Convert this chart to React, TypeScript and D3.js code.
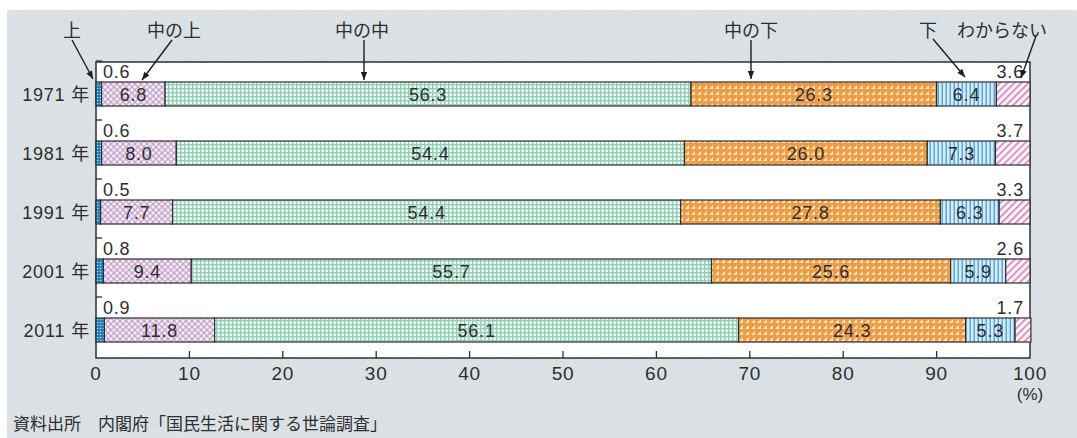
import React from 'react';
import * as d3 from 'd3';

const years = ['1971', '1981', '1991', '2001', '2011'];
const categories = ['上', '中の上', '中の中', '中の下', '下', 'わからない'];
const v1971 = [0.6, 6.8, 56.3, 26.3, 6.4, 3.6];
const v1981 = [0.6, 8.0, 54.4, 26.0, 7.3, 3.7];
const v1991 = [0.5, 7.7, 54.4, 27.8, 6.3, 3.3];
const v2001 = [0.8, 9.4, 55.7, 25.6, 5.9, 2.6];
const v2011 = [0.9, 11.8, 56.1, 24.3, 5.3, 1.7];
const seriesValues = [v1971, v1981, v1991, v2001, v2011];
const tickValues = [0, 10, 20, 30, 40, 50, 60, 70, 80, 90, 100];
const sourceNote = '資料出所　内閣府「国民生活に関する世論調査」';

const W = 1077;
const H = 438;
const plot = { left: 96, right: 1030, top: 62, bottom: 358 };
const FONT = '"Liberation Sans", "Noto Sans CJK JP", sans-serif';
const TEXT = '#2e2e2e';

const patternIds = ['p-top', 'p-midtop', 'p-midmid', 'p-midlow', 'p-low', 'p-unk'];

const annotations = [
  { label: '上', lx: 72, from: [72, 40], to: [93, 79] },
  { label: '中の上', lx: 174, from: [172, 40], to: [142, 80] },
  { label: '中の中', lx: 362, from: [364, 40], to: [364, 80] },
  { label: '中の下', lx: 751, from: [751, 40], to: [751, 79] },
  { label: '下', lx: 928, from: [933, 39], to: [965, 77] },
  { label: 'わからない', lx: 1002, from: [1036, 36], to: [1021, 78] },
];

export default function App() {
  const x = d3.scaleLinear().domain([0, 100]).range([plot.left, plot.right]);
  const y = d3.scalePoint<string>().domain(years).range([94, 330]);
  const barH = 24;

  const table = years.map((yr, i) => {
    const row: any = { year: yr };
    categories.forEach((c, j) => (row[c] = seriesValues[i][j]));
    return row;
  });
  const stacked = d3.stack<any>().keys(categories)(table);

  const arrowHead = (from: number[], to: number[]) => {
    const ang = Math.atan2(to[1] - from[1], to[0] - from[0]);
    const len = 8;
    const wid = 3.2;
    const bx = to[0] - len * Math.cos(ang);
    const by = to[1] - len * Math.sin(ang);
    const px = -Math.sin(ang) * wid;
    const py = Math.cos(ang) * wid;
    return `M${to[0]},${to[1]}L${bx + px},${by + py}L${bx - px},${by - py}Z`;
  };

  const numStyle = { letterSpacing: '0.8px' } as React.CSSProperties;

  return (
    <div style={{ position: 'absolute', left: 0, top: 0 }}>
      <svg width={W} height={H} style={{ display: 'block' }}>
        <defs>
          <filter id="grain" x="0" y="0" width="100%" height="100%">
            <feTurbulence type="fractalNoise" baseFrequency="0.9" numOctaves="2" seed="3" result="n" />
            <feColorMatrix type="matrix" values="0 0 0 0 0.55  0 0 0 0 0.6  0 0 0 0 0.63  0 0 0 0.35 0" />
            <feComposite in2="SourceGraphic" operator="in" />
          </filter>
          <pattern id="p-top" patternUnits="userSpaceOnUse" width="3" height="3">
            <rect width="3" height="3" fill="#1f7dc0" />
            <circle cx="1.5" cy="1.5" r="0.8" fill="#a6e6f6" />
          </pattern>
          <pattern id="p-midtop" patternUnits="userSpaceOnUse" width="6" height="6">
            <rect width="6" height="6" fill="#c7a6cd" />
            <circle cx="0" cy="0" r="1.7" fill="#f6eef6" />
            <circle cx="6" cy="0" r="1.7" fill="#f6eef6" />
            <circle cx="0" cy="6" r="1.7" fill="#f6eef6" />
            <circle cx="6" cy="6" r="1.7" fill="#f6eef6" />
            <circle cx="3" cy="3" r="1.7" fill="#f6eef6" />
          </pattern>
          <pattern id="p-midmid" patternUnits="userSpaceOnUse" width="4" height="4">
            <rect width="4" height="4" fill="#f1f9f5" />
            <rect x="0" y="0" width="4" height="1.4" fill="#93cfb6" />
            <rect x="0" y="0" width="1.4" height="4" fill="#93cfb6" />
          </pattern>
          <pattern id="p-midlow" patternUnits="userSpaceOnUse" width="6" height="6">
            <rect width="6" height="6" fill="#ee9c46" />
            <polygon points="1,5 5,5 5,1" fill="#fde7c4" />
          </pattern>
          <pattern id="p-low" patternUnits="userSpaceOnUse" width="4" height="4">
            <rect width="4" height="4" fill="#d3ecf8" />
            <rect x="1.5" y="0" width="1.5" height="4" fill="#5ea8d8" />
          </pattern>
          <pattern id="p-unk" patternUnits="userSpaceOnUse" width="5" height="5" patternTransform="rotate(45)">
            <rect width="5" height="5" fill="#fbf3f8" />
            <rect x="0" y="0" width="1.6" height="5" fill="#d47fb9" />
          </pattern>
        </defs>

        {/* background */}
        <rect x={0} y={0} width={W} height={H} fill="#ffffff" />
        <rect x={7} y={10} width={W - 7} height={H - 10} fill="#dfe5e8" />
        <rect x={7} y={10} width={W - 7} height={H - 10} fill="#dfe5e8" filter="url(#grain)" />

        {/* plot area */}
        <rect
          x={plot.left}
          y={plot.top}
          width={plot.right - plot.left}
          height={plot.bottom - plot.top}
          fill="#ffffff"
          stroke="#2e2e2e"
          strokeWidth={1.5}
        />

        {/* bars */}
        {stacked.map((s, j) => (
          <g key={s.key}>
            {s.map((d, i) => (
              <rect
                key={years[i]}
                x={x(d[0])}
                y={(y(years[i]) as number) - barH / 2}
                width={x(d[1]) - x(d[0])}
                height={barH}
                fill={`url(#${patternIds[j]})`}
                stroke="#2e2e2e"
                strokeWidth={1.2}
              />
            ))}
          </g>
        ))}

        {/* in-bar labels */}
        {stacked.map((s, j) =>
          j >= 1 && j <= 4
            ? s.map((d, i) => (
                <text
                  key={`${s.key}-${years[i]}`}
                  x={(x(d[0]) + x(d[1])) / 2}
                  y={(y(years[i]) as number) + 7}
                  textAnchor="middle"
                  fontFamily={FONT}
                  fontSize={18}
                  fill={TEXT}
                  style={numStyle}
                >
                  {seriesValues[i][j].toFixed(1)}
                </text>
              ))
            : null
        )}

        {/* small labels above bars */}
        {years.map((yr, i) => {
          const cy = y(yr) as number;
          return (
            <g key={`small-${yr}`}>
              <line x1={plot.left} x2={plot.left + 6} y1={cy - 33} y2={cy - 33} stroke="#2e2e2e" strokeWidth={1.3} />
              <text x={plot.left + 7} y={cy - 16} fontFamily={FONT} fontSize={18} fill={TEXT} style={numStyle}>
                {seriesValues[i][0].toFixed(1)}
              </text>
              <text x={plot.right - 6} y={cy - 16} textAnchor="end" fontFamily={FONT} fontSize={18} fill={TEXT} style={numStyle}>
                {seriesValues[i][5].toFixed(1)}
              </text>
            </g>
          );
        })}

        {/* year labels */}
        {years.map((yr) => (
          <text
            key={`yl-${yr}`}
            x={plot.left - 6}
            y={(y(yr) as number) + 7}
            textAnchor="end"
            fontFamily={FONT}
            fontSize={18}
            fill={TEXT}
            style={numStyle}
          >
            {`${yr} 年`}
          </text>
        ))}

        {/* x ticks */}
        {tickValues.map((t) => (
          <g key={`t-${t}`}>
            {t > 0 && t < 100 ? (
              <line x1={x(t)} x2={x(t)} y1={plot.bottom} y2={plot.bottom - 7} stroke="#2e2e2e" strokeWidth={1.3} />
            ) : null}
            <text x={x(t)} y={plot.bottom + 22} textAnchor="middle" fontFamily={FONT} fontSize={19} fill={TEXT} style={numStyle}>
              {t}
            </text>
          </g>
        ))}
        <text x={x(100)} y={plot.bottom + 42} textAnchor="middle" fontFamily={FONT} fontSize={17} fill={TEXT}>
          (%)
        </text>

        {/* annotations */}
        {annotations.map((a) => (
          <g key={`a-${a.label}`}>
            <text x={a.lx} y={37} textAnchor="middle" fontFamily={FONT} fontSize={18} fill={TEXT}>
              {a.label}
            </text>
            <line x1={a.from[0]} y1={a.from[1]} x2={a.to[0]} y2={a.to[1]} stroke="#1e1e1e" strokeWidth={1.4} />
            <path d={arrowHead(a.from, a.to)} fill="#1e1e1e" />
          </g>
        ))}

        {/* source */}
        <text x={13} y={430} fontFamily={'"Noto Sans CJK JP", sans-serif'} fontSize={17} fill={TEXT}>
          {sourceNote}
        </text>
      </svg>
    </div>
  );
}
